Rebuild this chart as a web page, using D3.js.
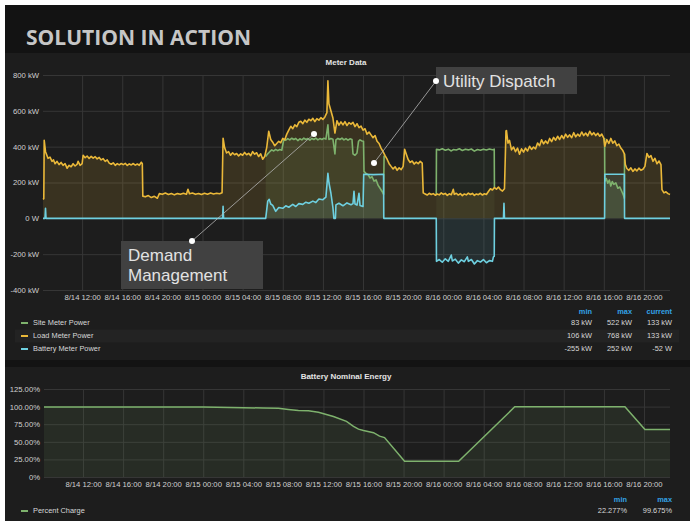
<!DOCTYPE html>
<html>
<head>
<meta charset="utf-8">
<script src="https://cdn.jsdelivr.net/npm/d3@7"></script>
<style>
    body { margin: 0; background: #ffffff; }
    svg { display: block; }
    text { font-family: "Liberation Sans", Arial, sans-serif; }
</style>
</head>
<body>
<div id="dashboard"></div>
<script>
// hours counted from 8/14 00:00, values in kW
const loadPower = [
    [8.10,106],[8.18,110],[8.22,436],[8.35,372],[8.6,335],[8.8,342],[9.0,318],[9.15,326],[9.3,305],[9.5,318],
    [9.7,300],[9.9,312],[10.1,296],[10.3,305],[10.5,280],[10.7,296],[10.9,288],[11.1,305],[11.3,292],[11.5,302],
    [11.6,318],[11.8,296],[12.0,305],[12.1,352],[12.3,338],[12.5,348],[12.7,334],[12.9,346],[13.1,336],[13.3,344],
    [13.5,332],[13.7,340],[13.9,326],[14.1,333],[14.3,318],[14.5,326],[14.7,308],[14.9,302],[15.1,310],[15.3,296],
    [15.5,305],[15.7,298],[15.9,306],[16.1,300],[16.3,307],[16.5,295],[16.7,304],[16.9,298],[17.1,306],[17.3,297],
    [17.5,303],[17.7,296],[17.9,313],[18.0,305],[18.05,124],
    [18.3,120],[18.6,127],[18.9,116],[19.2,123],[19.5,112],[19.7,138],[20.0,134],[20.3,141],[20.6,133],[20.9,139],
    [21.2,131],[21.5,138],[21.8,134],[22.1,140],[22.4,135],[22.55,162],[22.7,137],[23.0,141],[23.3,134],[23.6,139],
    [23.9,133],[24.2,140],[24.5,135],[24.8,141],[25.1,136],[25.4,140],[25.7,137],[25.95,143],
    [26.05,447],[26.2,395],[26.4,365],[26.6,372],[26.8,352],[27.0,366],[27.2,355],[27.4,362],[27.6,348],[27.8,360],
    [28.0,352],[28.2,368],[28.4,355],[28.6,363],[28.8,350],[29.0,372],[29.2,358],[29.4,366],[29.6,345],[29.8,360],
    [30.0,330],[30.2,345],[30.4,395],[30.6,486],[30.8,440],[31.0,425],[31.2,405],[31.4,418],[31.6,430],[31.8,422],
    [32.0,446],[32.2,438],[32.4,470],[32.6,492],[32.8,514],[33.0,500],[33.2,522],[33.4,512],[33.6,536],[33.8,542],
    [34.0,528],[34.2,548],[34.4,536],[34.6,553],[34.8,545],[35.0,558],[35.2,540],[35.4,556],[35.6,548],[35.8,562],
    [36.0,552],[36.2,566],[36.4,590],[36.5,768],[36.6,640],[36.8,600],[37.0,560],[37.2,476],[37.4,545],[37.6,520],
    [37.8,538],[38.0,522],[38.2,540],[38.4,518],[38.6,534],[38.8,526],[39.0,536],[39.2,512],[39.4,528],[39.6,506],
    [39.8,515],[40.0,492],[40.2,500],[40.4,470],[40.6,482],[40.8,466],[41.0,450],[41.2,462],[41.4,430],[41.6,418],
    [41.8,392],[42.0,372],[42.2,350],[42.4,330],[42.6,305],[42.8,290],[43.0,276],[43.2,288],[43.4,268],[43.6,282],
    [43.8,272],[44.0,290],[44.15,385],[44.3,360],[44.5,328],[44.7,312],[44.9,320],[45.1,303],[45.3,314],[45.5,305],
    [45.7,318],[45.9,308],[46.0,142],
    [46.2,136],[46.4,130],[46.6,140],[46.8,133],[47.0,138],[47.2,129],[47.4,136],[47.6,131],[47.8,142],[48.0,134],
    [48.2,139],[48.4,128],[48.6,137],[48.8,132],[49.0,162],[49.1,134],[49.3,140],[49.5,130],[49.7,138],[49.9,127],
    [50.1,136],[50.3,131],[50.5,141],[50.7,133],[50.9,139],[51.1,128],[51.3,136],[51.5,132],[51.7,140],[51.9,130],
    [52.1,137],[52.3,133],[52.5,150],[52.7,165],[52.9,158],[53.1,172],[53.3,163],[53.5,175],[53.7,160],[53.9,152],
    [54.1,165],[54.25,488],
    [54.3,490],[54.45,420],[54.6,435],[54.8,382],[55.0,398],[55.2,372],[55.4,392],[55.6,358],[55.8,388],[56.0,370],
    [56.2,392],[56.4,376],[56.6,402],[56.8,385],[57.0,398],[57.2,388],[57.4,420],[57.6,405],[57.8,438],[58.0,416],
    [58.2,432],[58.4,418],[58.6,446],[58.8,428],[59.0,452],[59.2,436],[59.4,458],[59.6,440],[59.8,462],[60.0,445],
    [60.2,470],[60.4,452],[60.6,466],[60.8,450],[61.0,478],[61.2,455],[61.4,470],[61.6,458],[61.8,482],[62.0,462],
    [62.2,476],[62.4,460],[62.6,486],[62.8,466],[63.0,478],[63.2,462],[63.4,475],[63.6,458],[63.8,470],[64.0,448],
    [64.1,402],[64.3,440],[64.5,418],[64.7,446],[64.9,420],[65.1,432],[65.3,405],[65.5,415],[65.7,392],[65.9,378],
    [66.05,360],[66.15,300],[66.3,278],[66.5,268],[66.7,282],[66.9,262],[67.1,276],[67.3,265],[67.5,280],[67.7,268],
    [67.9,274],[68.1,290],[68.3,362],[68.5,340],[68.7,350],[68.9,318],[69.1,335],[69.3,305],[69.5,320],[69.7,300],
    [69.8,160],[70.0,142],[70.2,148],[70.4,138],[70.6,133]
];

// site meter only where it leaves the load line (battery active)
const siteDischargeDay = [
    [30.3,345],[30.5,360],[30.7,372],[30.9,382],[31.1,376],[31.3,385],[31.5,378],[31.7,384],[31.9,380],[32.1,440],
    [32.3,436],[32.5,445],[32.7,438],[32.9,447],[33.1,440],[33.3,446],[33.5,434],[33.7,444],[33.9,438],[34.1,448],
    [34.3,440],[34.5,445],[34.7,436],[34.9,446],[35.1,440],[35.3,448],[35.5,438],[35.7,445],[35.9,440],[36.1,447],
    [36.3,442],[36.5,522],[36.6,440],[36.8,446],[37.0,442],[37.2,360],[37.3,438],[37.5,446],[37.7,440],[37.9,448],
    [38.1,438],[38.3,445],[38.5,436],[38.7,444],[38.9,440],[39.0,360],[39.2,352],[39.4,365],[39.55,430],[39.7,438],
    [39.9,432],[40.05,430],[40.1,262],[40.3,250],[40.5,244],[40.7,225],[40.9,232],[41.1,208],[41.3,215],[41.5,185],
    [41.7,168],[41.9,150],[42.05,134],[42.1,350]
];
const siteChargeNight = [
    [47.3,136],[47.32,385],[47.6,382],[47.9,388],[48.2,380],[48.5,386],[48.8,376],[49.0,384],[49.3,381],[49.6,388],
    [49.9,379],[50.2,386],[50.5,382],[50.8,387],[51.1,375],[51.4,384],[51.7,380],[52.0,386],[52.3,381],[52.6,387],
    [52.9,383],[53.08,386],[53.1,172]
];
const siteDispatch = [
    [64.08,448],[64.1,207],[64.25,222],[64.4,196],[64.55,214],[64.7,180],[64.85,205],[65.0,190],[65.2,198],[65.4,168],
    [65.6,175],[65.8,150],[65.95,130],[66.05,112],[66.07,360]
];

const batteryPower = [
    [8.1,0],[8.3,0],[8.35,56],[8.4,0],[26.0,0],[26.05,67],[26.1,0],[30.3,0],[30.5,95],[30.65,106],
    [30.8,80],[31.0,72],[31.3,39],[31.6,60],[32.0,56],[32.3,70],[32.6,62],[33.0,78],[33.3,66],[33.6,82],
    [34.0,78],[34.3,90],[34.6,84],[35.0,96],[35.3,88],[35.6,108],[36.0,104],[36.3,118],[36.5,251],[36.6,200],
    [36.8,140],[37.0,60],[37.1,0],[37.25,0],[37.3,75],[37.6,84],[38.0,70],[38.4,86],[38.8,76],[39.0,82],
    [39.1,151],[39.2,80],[39.4,74],[39.6,140],[39.7,72],[40.0,66],[40.07,246],[41.0,244],[42.05,246],[42.07,0],
    [47.3,0],[47.32,-240],[47.6,-230],[47.9,-245],[48.2,-226],[48.5,-240],[48.8,-205],[48.9,-238],[49.2,-228],[49.5,-250],
    [49.8,-232],[50.1,-242],[50.4,-215],[50.5,-240],[50.8,-230],[51.1,-255],[51.4,-236],[51.7,-244],[52.0,-230],[52.3,-248],
    [52.6,-236],[52.9,-240],[53.0,-215],[53.08,-212],[53.1,0],[54.0,0],[54.05,84],[54.1,0],[64.08,0],[64.1,246],
    [66.05,246],[66.07,0],[70.6,-0.052]
];

// percent charge
const batteryCharge = [
    [8.1,99.6],[20,99.5],[24,99.3],[28,98.5],[30,98],[31.5,97.5],[32.5,96],[33.5,94.5],[34.5,94],[35.5,92],
    [37,86],[38.3,79],[39,72],[39.5,68],[40,66],[41,63],[41.6,58],[42.1,56],[44.1,22.3],[49.5,22.277],
    [55.1,99.675],[66.1,99.675],[68.1,67.5],[70.6,67.5]
];

const meterTicks = [-400, -200, 0, 200, 400, 600, 800];
const chargeTicks = [0, 25, 50, 75, 100, 125];

const meterLegend = [
    {name: "Site Meter Power", color: "#7eb26d", min: "83 kW", max: "522 kW", current: "133 kW"},
    {name: "Load Meter Power", color: "#eab839", min: "106 kW", max: "768 kW", current: "133 kW"},
    {name: "Battery Meter Power", color: "#6ed0e0", min: "-255 kW", max: "252 kW", current: "-52 W"}
];
const chargeLegend = [
    {name: "Percent Charge", color: "#7eb26d", min: "22.277%", max: "99.675%"}
];

const base = new Date(2016, 7, 14);
const toDate = h => new Date(base.getTime() + h * 3600000);
const timeLabel = d3.timeFormat("%-m/%d %H:%M");

const W = 690, H = 521;
const svg = d3.select("#dashboard")
    .append("svg")
        .attr("width", W)
        .attr("height", H);

// backgrounds
svg.append("rect").attr("x", 5).attr("y", 5).attr("width", W - 5).attr("height", H - 5).attr("fill", "#131313");
svg.append("rect").attr("x", 5).attr("y", 53).attr("width", W - 5).attr("height", 307).attr("fill", "#1d1d1d");
svg.append("rect").attr("x", 5).attr("y", 367).attr("width", W - 5).attr("height", H - 367).attr("fill", "#1d1d1d");

svg.append("text")
    .attr("x", 26)
    .attr("y", 45)
    .attr("textLength", 225)
    .attr("lengthAdjust", "spacingAndGlyphs")
    .style("font-family", "'Open Sans', sans-serif")
    .style("font-weight", "bold")
    .style("font-size", "22px")
    .style("fill", "#c6c6c6")
    .text("SOLUTION IN ACTION");

const styleAxis = (g) => {
    g.select(".domain").remove();
    g.selectAll(".tick line").attr("stroke", "#363636").attr("stroke-width", 1);
    g.selectAll(".tick text")
        .style("font-family", "'Liberation Sans', Arial, sans-serif")
        .style("font-size", "7.7px")
        .style("fill", "#d0d0d0");
};

const panelTitle = (text, y) => {
    svg.append("text")
        .attr("x", 346)
        .attr("y", y)
        .style("text-anchor", "middle")
        .style("dominant-baseline", "middle")
        .style("font-weight", "bold")
        .style("font-size", "8px")
        .style("fill", "#e4e4e4")
        .text(text);
};

const drawLegend = (rows, y0, cols) => {
    const rowH = 13;
    svg.selectAll(null)
        .data(cols)
        .join("text")
            .attr("x", d => d.x)
            .attr("y", y0 - rowH + 2)
            .style("text-anchor", "end")
            .style("dominant-baseline", "middle")
            .style("font-size", "7.4px")
            .style("font-weight", "bold")
            .style("fill", "#33a2e5")
            .text(d => d.key);

    const row = svg.selectAll(null)
        .data(rows)
        .join("g")
            .attr("transform", (d, i) => `translate(0,${y0 + i * rowH})`);

    row.filter((d, i) => i === 1)
        .append("rect")
            .attr("x", 15)
            .attr("y", -6.5)
            .attr("width", 664)
            .attr("height", 13)
            .attr("fill", "#232323");

    row.append("line")
        .attr("x1", 21).attr("x2", 28)
        .attr("y1", 0).attr("y2", 0)
        .attr("stroke", d => d.color)
        .attr("stroke-width", 2);

    row.append("text")
        .attr("x", 33)
        .attr("y", 0)
        .style("dominant-baseline", "middle")
        .style("font-size", "7.4px")
        .style("fill", "#d8d8d8")
        .text(d => d.name);

    cols.forEach(c => {
        row.append("text")
            .attr("x", c.x)
            .attr("y", 0)
            .style("text-anchor", "end")
            .style("dominant-baseline", "middle")
            .style("font-size", "7.4px")
            .style("fill", "#d8d8d8")
            .text(d => d[c.key]);
    });
};

function drawMeter() {
    const x = d3.scaleTime()
        .domain([toDate(8.1), toDate(70.6)])
        .range([43, 670]);
    const y = d3.scaleLinear()
        .domain([-400, 800])
        .range([290, 75]);

    panelTitle("Meter Data", 63);

    svg.append("g")
        .attr("transform", "translate(43,0)")
        .call(d3.axisLeft(y).tickValues(meterTicks).tickSize(-627).tickPadding(4)
            .tickFormat(d => d === 0 ? "0 W" : d + " kW"))
        .call(styleAxis);

    svg.append("g")
        .attr("transform", "translate(0,290)")
        .call(d3.axisBottom(x).ticks(d3.timeHour.every(4)).tickSize(-215).tickPadding(5)
            .tickFormat(timeLabel))
        .call(styleAxis);

    const area = d3.area()
        .x(d => x(toDate(d[0])))
        .y0(y(0))
        .y1(d => y(d[1]));
    const line = d3.line()
        .x(d => x(toDate(d[0])))
        .y(d => y(d[1]));

    const series = [
        {data: siteDischargeDay, color: "#7eb26d", fill: 0.12},
        {data: siteChargeNight, color: "#7eb26d", fill: 0.07},
        {data: siteDispatch, color: "#7eb26d", fill: 0.12},
        {data: loadPower, color: "#eab839", fill: 0.14},
        {data: batteryPower, color: "#6ed0e0", fill: 0.1}
    ];

    svg.selectAll(".fill")
        .data(series)
        .join("path")
            .attr("class", "fill")
            .attr("d", d => area(d.data))
            .attr("fill", d => d.color)
            .attr("fill-opacity", d => d.fill);

    svg.selectAll(".series")
        .data(series)
        .join("path")
            .attr("class", "series")
            .attr("d", d => line(d.data))
            .attr("fill", "none")
            .attr("stroke", d => d.color)
            .attr("stroke-width", 1.6)
            .attr("stroke-linejoin", "round");

    drawLegend(meterLegend, 323, [
        {key: "min", x: 592},
        {key: "max", x: 632},
        {key: "current", x: 672}
    ]);

    // annotations
    const note = (lines, box, from, to) => {
        svg.append("line")
            .attr("x1", from[0]).attr("y1", from[1])
            .attr("x2", to[0]).attr("y2", to[1])
            .attr("stroke", "#b5b5b5")
            .attr("stroke-width", 0.8);
        svg.append("rect")
            .attr("x", box[0]).attr("y", box[1])
            .attr("width", box[2]).attr("height", box[3])
            .attr("fill", "#414141");
        lines.forEach((t, i) => {
            svg.append("text")
                .attr("x", box[0] + 7)
                .attr("y", box[1] + 20 + i * 20)
                .style("font-size", "17px")
                .style("fill", "#e2e2e2")
                .text(t);
        });
        [from, to].forEach(p => {
            svg.append("circle")
                .attr("cx", p[0]).attr("cy", p[1])
                .attr("r", 3)
                .attr("fill", "#ffffff");
        });
    };

    note(["Utility Dispatch"], [436, 67, 141, 27], [436, 81], [374, 163]);
    note(["Demand", "Management"], [121, 241, 142, 48], [192, 241], [314, 134]);
}

function drawCharge() {
    const x = d3.scaleTime()
        .domain([toDate(8.1), toDate(70.6)])
        .range([44, 670]);
    const y = d3.scaleLinear()
        .domain([0, 125])
        .range([477, 389]);

    panelTitle("Battery Nominal Energy", 377);

    svg.append("g")
        .attr("transform", "translate(44,0)")
        .call(d3.axisLeft(y).tickValues(chargeTicks).tickSize(-626).tickPadding(4)
            .tickFormat(d => d === 0 ? "0%" : d.toFixed(2) + "%"))
        .call(styleAxis);

    svg.append("g")
        .attr("transform", "translate(0,477)")
        .call(d3.axisBottom(x).ticks(d3.timeHour.every(4)).tickSize(-88).tickPadding(5)
            .tickFormat(timeLabel))
        .call(styleAxis);

    svg.append("path")
        .attr("d", d3.area()
            .x(d => x(toDate(d[0])))
            .y0(y(0))
            .y1(d => y(d[1]))(batteryCharge))
        .attr("fill", "#7eb26d")
        .attr("fill-opacity", 0.1);

    svg.append("path")
        .attr("d", d3.line()
            .x(d => x(toDate(d[0])))
            .y(d => y(d[1]))(batteryCharge))
        .attr("fill", "none")
        .attr("stroke", "#7eb26d")
        .attr("stroke-width", 1.5);

    drawLegend(chargeLegend, 511, [
        {key: "min", x: 627},
        {key: "max", x: 672}
    ]);
}

drawMeter();
drawCharge();
</script>
</body>
</html>
